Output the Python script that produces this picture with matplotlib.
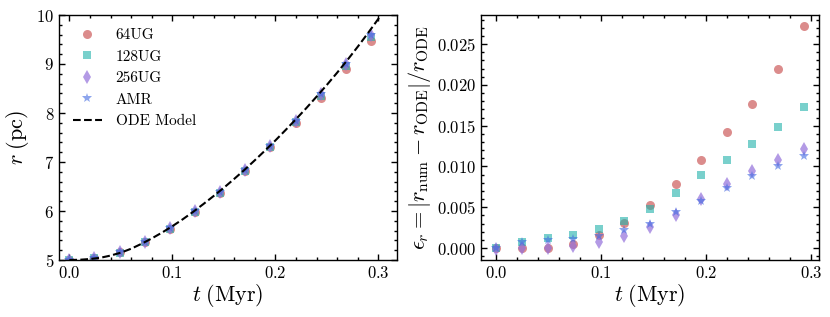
"""Shell radius vs time and relative error against the ODE model."""
import matplotlib
matplotlib.use("Agg")
import matplotlib.pyplot as plt
from matplotlib.ticker import MultipleLocator

plt.rcParams['font.family'] = 'serif'
plt.rcParams['font.serif'] = ['cmr10', 'DejaVu Serif']
plt.rcParams['mathtext.fontset'] = 'cm'
plt.rcParams['axes.formatter.use_mathtext'] = True
plt.rcParams['axes.unicode_minus'] = False

# sample times (Myr)
t = [0.0, 0.0244, 0.0488, 0.0732, 0.0976, 0.122, 0.1464, 0.1708, 0.1952,
     0.2196, 0.244, 0.2684, 0.2928]

# radius (pc)
r_64 = [5.0, 5.05, 5.16, 5.37, 5.64, 5.98, 6.37, 6.82, 7.30, 7.80, 8.31, 8.89, 9.46]
r_128 = [5.0, 5.04, 5.15, 5.36, 5.64, 5.98, 6.36, 6.82, 7.31, 7.81, 8.35, 8.95, 9.56]
r_256 = [5.0, 5.05, 5.16, 5.37, 5.65, 5.99, 6.38, 6.84, 7.33, 7.84, 8.39, 8.99, 9.60]
r_amr = [5.0, 5.05, 5.16, 5.37, 5.65, 5.99, 6.38, 6.84, 7.33, 7.83, 8.39, 8.99, 9.60]

# ODE model curve
t_ode = [0.0, 0.01, 0.02, 0.03, 0.04, 0.05, 0.06, 0.07, 0.08, 0.09, 0.10, 0.11,
         0.12, 0.13, 0.14, 0.15, 0.16, 0.17, 0.18, 0.19, 0.20, 0.21, 0.22, 0.23,
         0.24, 0.25, 0.26, 0.27, 0.28, 0.29, 0.30, 0.31, 0.32]
r_ode = [5.0, 5.005, 5.02, 5.045, 5.09, 5.15, 5.23, 5.33, 5.44, 5.56, 5.69, 5.83,
         5.98, 6.14, 6.305, 6.475, 6.655, 6.84, 7.035, 7.235, 7.44, 7.655, 7.875,
         8.10, 8.335, 8.575, 8.825, 9.085, 9.355, 9.635, 9.925, 10.225, 10.535]

# relative error
e_64 = [0.0, 0.0, 0.0, 0.0005, 0.0016, 0.0031, 0.0053, 0.0078, 0.0108, 0.0142,
        0.0177, 0.0220, 0.0272]
e_128 = [0.0, 0.0007, 0.0012, 0.0016, 0.0023, 0.0033, 0.0048, 0.0068, 0.0089,
         0.0108, 0.0128, 0.0148, 0.0173]
e_256 = [-0.0001, 0.0, 0.0, 0.0002, 0.0008, 0.0015, 0.0026, 0.0041, 0.0060,
         0.0078, 0.0095, 0.0108, 0.0121]
e_amr = [0.0, 0.0007, 0.0010, 0.0011, 0.0015, 0.0022, 0.0030, 0.0044, 0.0058,
         0.0073, 0.0088, 0.0101, 0.0113]

styles = [
    ('64UG', 'o', 'indianred', 0.7, 6.5),
    ('128UG', 's', 'lightseagreen', 0.6, 6.0),
    ('256UG', 'd', 'mediumpurple', 0.7, 7.0),
    ('AMR', '*', 'royalblue', 0.6, 7.5),
]

fig = plt.figure(figsize=(8.3, 3.17), dpi=100)
ax1 = fig.add_axes([59 / 830, 57 / 317, 338 / 830, 245 / 317])
ax2 = fig.add_axes([481 / 830, 57 / 317, 338 / 830, 245 / 317])

for (label, m, c, a, ms), r in zip(styles, [r_64, r_128, r_256, r_amr]):
    ax1.plot(t, r, ls='none', marker=m, color=c, alpha=a, ms=ms, mew=0, label=label)
ax1.plot(t_ode, r_ode, 'k--', lw=1.5, label='ODE Model')

for (label, m, c, a, ms), e in zip(styles, [e_64, e_128, e_256, e_amr]):
    ax2.plot(t, e, ls='none', marker=m, color=c, alpha=a, ms=ms, mew=0, label=label)

ax1.set_xlim(-0.01, 0.318)
ax1.set_ylim(5, 10)
ax1.xaxis.set_major_locator(MultipleLocator(0.1))
ax1.xaxis.set_minor_locator(MultipleLocator(0.02))
ax1.yaxis.set_major_locator(MultipleLocator(1))
ax1.yaxis.set_minor_locator(MultipleLocator(0.2))
ax1.set_xlabel(r'$t\;(\mathrm{Myr})$', fontsize=16, labelpad=1)
ax1.set_ylabel(r'$r\;(\mathrm{pc})$', fontsize=16, labelpad=4)
ax1.legend(loc='upper left', frameon=False, fontsize=11, handlelength=1.9,
           borderaxespad=0.5, labelspacing=0.5, handletextpad=0.9)

ax2.xaxis.set_major_locator(MultipleLocator(0.1))
ax2.xaxis.set_minor_locator(MultipleLocator(0.02))
ax2.yaxis.set_major_locator(MultipleLocator(0.005))
ax2.yaxis.set_minor_locator(MultipleLocator(0.001))
ax2.set_xlabel(r'$t\;(\mathrm{Myr})$', fontsize=16, labelpad=1)
ax2.set_ylabel(r'$\epsilon_r = |r_\mathrm{num} - r_\mathrm{ODE}|/r_\mathrm{ODE}$',
               fontsize=16, labelpad=3)

for ax in (ax1, ax2):
    ax.tick_params(which='both', direction='in', top=True, right=True, labelsize=12)
    ax.tick_params(which='major', length=4, width=1)
    ax.tick_params(which='minor', length=2, width=1)
    for s in ax.spines.values():
        s.set_linewidth(1)

fig.savefig('out.png', dpi=100)
